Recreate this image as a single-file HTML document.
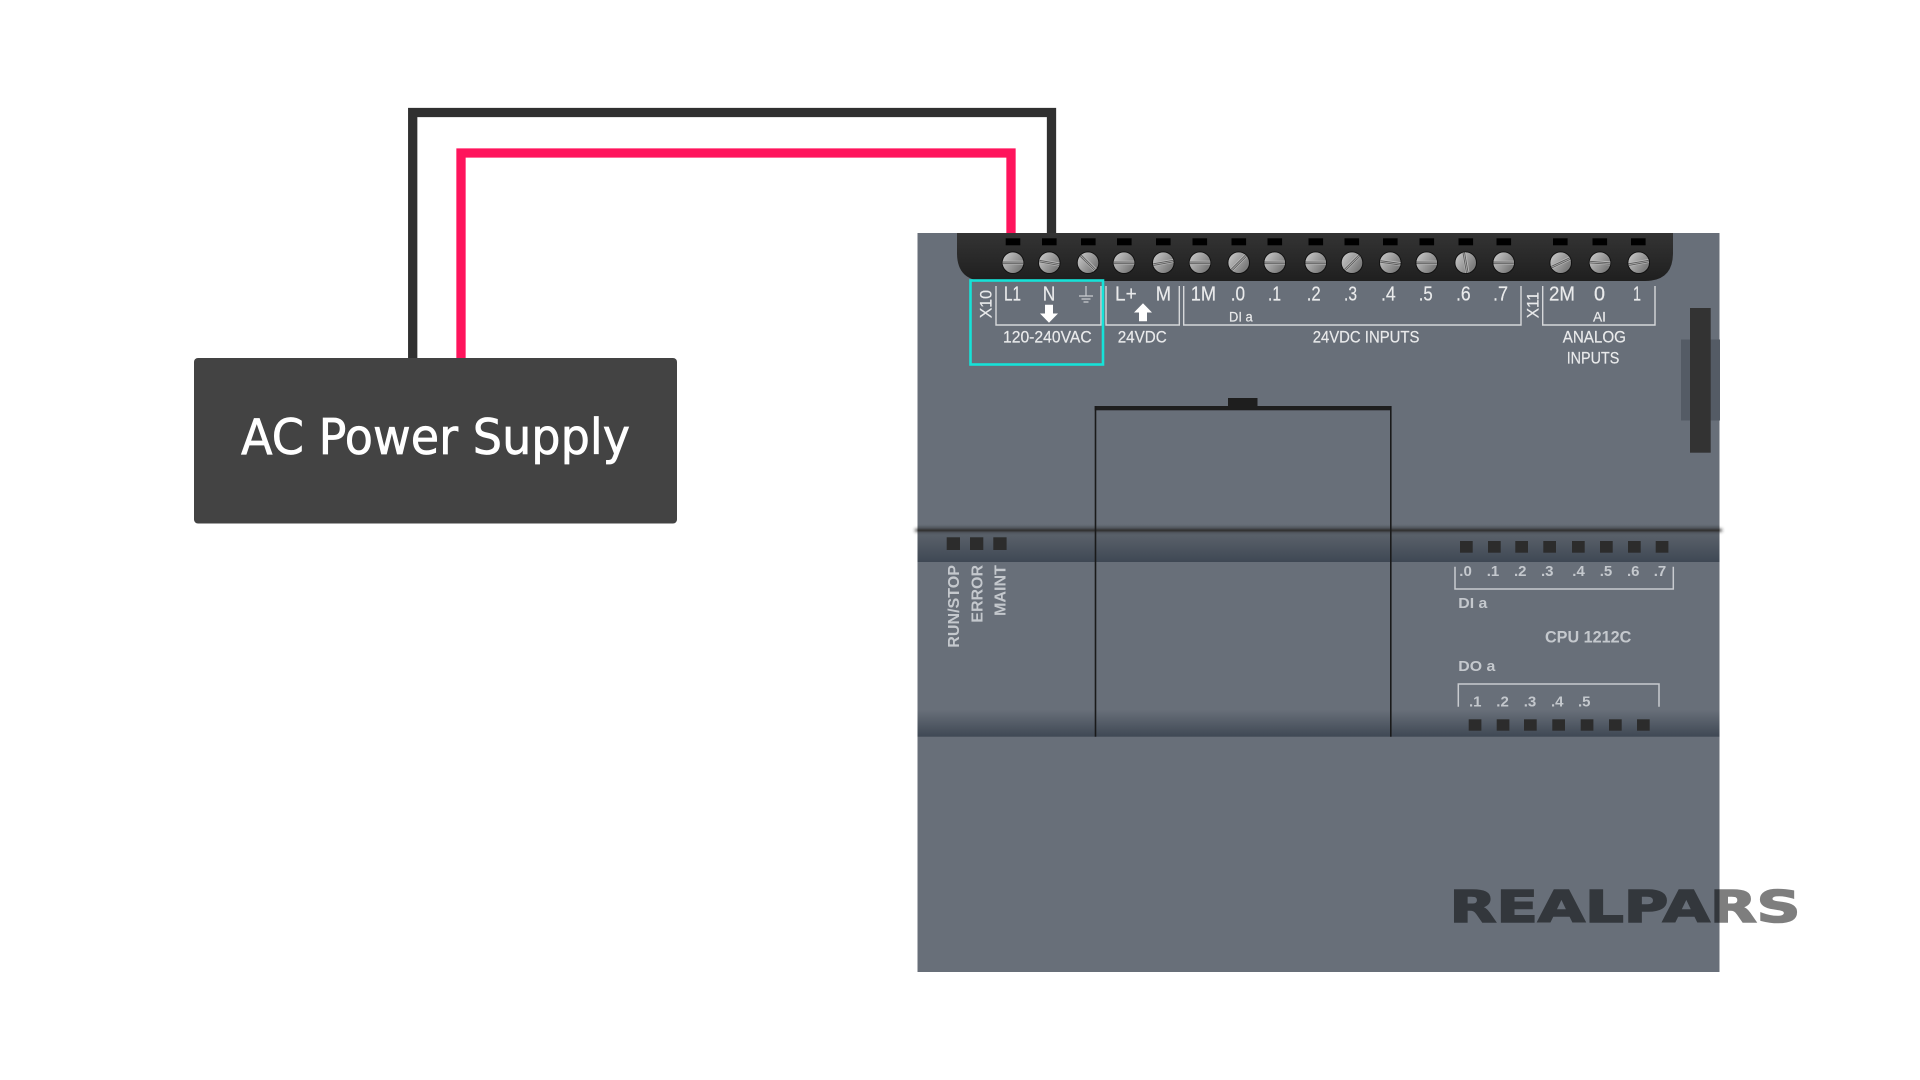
<!DOCTYPE html>
<html><head><meta charset="utf-8"><title>AC Power Supply wiring</title>
<style>html,body{margin:0;padding:0;background:#fff}svg{display:block}</style></head>
<body>
<svg width="1920" height="1080" viewBox="0 0 1920 1080" xmlns="http://www.w3.org/2000/svg">
<defs>
<linearGradient id="blk" x1="0" y1="0" x2="0" y2="1"><stop offset="0" stop-color="#343434"/><stop offset="1" stop-color="#1f1f1f"/></linearGradient>
<linearGradient id="b1" x1="0" y1="0" x2="0" y2="1"><stop offset="0" stop-color="#5c636c"/><stop offset="1" stop-color="#3f4854"/></linearGradient>
<linearGradient id="b2" x1="0" y1="0" x2="0" y2="1"><stop offset="0" stop-color="#686f79"/><stop offset="1" stop-color="#3f4854"/></linearGradient>
<linearGradient id="b0" x1="0" y1="0" x2="0" y2="1"><stop offset="0" stop-color="#686f79"/><stop offset="1" stop-color="#555b63"/></linearGradient>
<linearGradient id="sc" x1="0" y1="0" x2="0.9" y2="0.6"><stop offset="0" stop-color="#cfcfcf"/><stop offset="1" stop-color="#7d7d7d"/></linearGradient>
<filter id="bl" x="-5%" y="-300%" width="110%" height="700%"><feGaussianBlur stdDeviation="1.5"/></filter>
<g id="s"><circle r="10.8" fill="url(#sc)" stroke="#111" stroke-width="1"/></g>
<g id="k"><rect x="-10.2" y="-2" width="20.4" height="4" fill="#b9b9b9"/><rect x="-10.2" y="-1.1" width="20.4" height="0.9" fill="#5b5b5b"/><rect x="-10.2" y="0.5" width="20.4" height="0.9" fill="#5b5b5b"/></g>
</defs>

<rect width="1920" height="1080" fill="#fff"/>

<!-- wires -->
<path d="M412.7 360V112.5H1051.5V240" fill="none" stroke="#303030" stroke-width="9.3"/>
<path d="M461 360V153H1011V240" fill="none" stroke="#ff145c" stroke-width="9.3"/>

<!-- power supply -->
<rect x="194" y="358" width="483" height="165.5" rx="4" fill="#434343"/>
<text x="241" y="454" font-family="'DejaVu Sans',sans-serif" font-size="49" fill="#fff" stroke="#fff" stroke-width="0.7" textLength="389" lengthAdjust="spacingAndGlyphs">AC Power Supply</text>

<!-- PLC body -->
<rect x="917.5" y="233" width="802" height="739" fill="#686f79"/>
<rect x="917.5" y="524" width="802" height="6" fill="url(#b0)"/>
<rect x="917.5" y="532" width="802" height="30" fill="url(#b1)"/>
<rect x="917.5" y="710" width="802" height="26.7" fill="url(#b2)"/>
<rect x="915" y="529" width="807" height="2.5" fill="#2a2a2a" filter="url(#bl)"/>
<rect x="917.5" y="529.5" width="802" height="2" fill="#333"/>

<!-- right clip -->
<rect x="1681" y="339.5" width="39" height="81" fill="#545b65"/>
<rect x="1690" y="308" width="20.7" height="144.7" fill="#333"/>

<!-- door -->
<rect x="1228" y="398" width="29.5" height="9" fill="#1e1e1e"/>
<rect x="1094.7" y="406" width="296.8" height="4.3" fill="#1e1e1e"/>
<rect x="1094.7" y="406" width="1.6" height="330.7" fill="#1a1a1a"/>
<rect x="1390" y="406" width="1.6" height="330.7" fill="#1a1a1a"/>

<!-- terminal block -->
<path d="M957 233H1673V253Q1673 281 1645 281H985Q957 281 957 253Z" fill="url(#blk)"/>
<g fill="#000">
<rect x="1005.7" y="238.3" width="14.6" height="7"/><rect x="1042" y="238.3" width="14.6" height="7"/><rect x="1081" y="238.3" width="14.6" height="7"/><rect x="1117" y="238.3" width="14.6" height="7"/><rect x="1156" y="238.3" width="14.6" height="7"/><rect x="1192.5" y="238.3" width="14.6" height="7"/><rect x="1231.5" y="238.3" width="14.6" height="7"/><rect x="1267.5" y="238.3" width="14.6" height="7"/><rect x="1308.5" y="238.3" width="14.6" height="7"/><rect x="1344.5" y="238.3" width="14.6" height="7"/><rect x="1383" y="238.3" width="14.6" height="7"/><rect x="1419.5" y="238.3" width="14.6" height="7"/><rect x="1458.5" y="238.3" width="14.6" height="7"/><rect x="1496.5" y="238.3" width="14.6" height="7"/><rect x="1553" y="238.3" width="14.6" height="7"/><rect x="1592.5" y="238.3" width="14.6" height="7"/><rect x="1631" y="238.3" width="14.6" height="7"/>
</g>
<!-- screws -->
<g id="screws">
<g transform="translate(1013,262.7)"><use href="#s"/><use href="#k"/></g>
<g transform="translate(1049.3,262.7)"><use href="#s"/><use href="#k" transform="rotate(10)"/></g>
<g transform="translate(1088,262.7)"><use href="#s"/><use href="#k" transform="rotate(45)"/></g>
<g transform="translate(1124,262.7)"><use href="#s"/><use href="#k"/></g>
<g transform="translate(1163.3,262.7)"><use href="#s"/><use href="#k" transform="rotate(-10)"/></g>
<g transform="translate(1200,262.7)"><use href="#s"/><use href="#k"/></g>
<g transform="translate(1238.7,262.7)"><use href="#s"/><use href="#k" transform="rotate(-45)"/></g>
<g transform="translate(1274.7,262.7)"><use href="#s"/><use href="#k"/></g>
<g transform="translate(1315.7,262.7)"><use href="#s"/><use href="#k"/></g>
<g transform="translate(1352,262.7)"><use href="#s"/><use href="#k" transform="rotate(-45)"/></g>
<g transform="translate(1390.3,262.7)"><use href="#s"/><use href="#k" transform="rotate(8)"/></g>
<g transform="translate(1426.7,262.7)"><use href="#s"/><use href="#k"/></g>
<g transform="translate(1465.7,262.7)"><use href="#s"/><use href="#k" transform="rotate(80)"/></g>
<g transform="translate(1503.7,262.7)"><use href="#s"/><use href="#k"/></g>
<g transform="translate(1560.7,262.7)"><use href="#s"/><use href="#k" transform="rotate(-25)"/></g>
<g transform="translate(1600,262.7)"><use href="#s"/><use href="#k" transform="rotate(4)"/></g>
<g transform="translate(1638.7,262.7)"><use href="#s"/><use href="#k" transform="rotate(-10)"/></g>
</g>

<!-- top brackets -->
<g fill="none" stroke="#d6d8da" stroke-width="1.4">
<path d="M996 286V325H1101V286"/>
<path d="M1106 286V325H1179.3V286"/>
<path d="M1183.7 286V325H1521V286"/>
<path d="M1542.7 286V325H1655V286"/>
</g>

<!-- terminal labels -->
<g font-family="'Liberation Sans',sans-serif" fill="#e9eaeb" stroke="#e9eaeb" stroke-width="0.2" font-size="20">
<text x="1004" y="300.3" textLength="17" lengthAdjust="spacingAndGlyphs">L1</text>
<text x="1042.7" y="300.3" textLength="12.6" lengthAdjust="spacingAndGlyphs">N</text>
<text x="1115" y="300.3" textLength="21.7" lengthAdjust="spacingAndGlyphs">L+</text>
<text x="1155.7" y="300.3" textLength="15.3" lengthAdjust="spacingAndGlyphs">M</text>
<text x="1190.7" y="300.3" textLength="25.3" lengthAdjust="spacingAndGlyphs">1M</text>
<text x="1230.7" y="300.3" textLength="14.3" lengthAdjust="spacingAndGlyphs">.0</text>
<text x="1268" y="300.3" textLength="13" lengthAdjust="spacingAndGlyphs">.1</text>
<text x="1306.7" y="300.3" textLength="14" lengthAdjust="spacingAndGlyphs">.2</text>
<text x="1344" y="300.3" textLength="13" lengthAdjust="spacingAndGlyphs">.3</text>
<text x="1381" y="300.3" textLength="14.7" lengthAdjust="spacingAndGlyphs">.4</text>
<text x="1418.7" y="300.3" textLength="14" lengthAdjust="spacingAndGlyphs">.5</text>
<text x="1456" y="300.3" textLength="14.7" lengthAdjust="spacingAndGlyphs">.6</text>
<text x="1493" y="300.3" textLength="15" lengthAdjust="spacingAndGlyphs">.7</text>
<text x="1549" y="300.3" textLength="26" lengthAdjust="spacingAndGlyphs">2M</text>
<text x="1594" y="300.3" textLength="11" lengthAdjust="spacingAndGlyphs">0</text>
<text x="1633" y="300.3" textLength="8" lengthAdjust="spacingAndGlyphs">1</text>
<text x="1229" y="321.7" font-size="14" textLength="23.7" lengthAdjust="spacingAndGlyphs">DI a</text>
<text x="1593" y="321.7" font-size="14" textLength="13" lengthAdjust="spacingAndGlyphs">AI</text>
<text x="1003" y="342.5" font-size="16.5" textLength="88.7" lengthAdjust="spacingAndGlyphs">120-240VAC</text>
<text x="1117.7" y="342.5" font-size="16.5" textLength="49" lengthAdjust="spacingAndGlyphs">24VDC</text>
<text x="1312.7" y="342.5" font-size="16.5" textLength="106.7" lengthAdjust="spacingAndGlyphs">24VDC INPUTS</text>
<text x="1562.7" y="342.5" font-size="16.5" textLength="63.3" lengthAdjust="spacingAndGlyphs">ANALOG</text>
<text x="1566.7" y="363.5" font-size="16.5" textLength="52.6" lengthAdjust="spacingAndGlyphs">INPUTS</text>
<text transform="translate(991.5,318.3) rotate(-90)" font-size="17" textLength="28.3" lengthAdjust="spacingAndGlyphs">X10</text>
<text transform="translate(1538.5,318.3) rotate(-90)" font-size="17" textLength="26.3" lengthAdjust="spacingAndGlyphs">X11</text>
</g>

<!-- ground symbol -->
<g stroke="#c9ccd0" stroke-width="1.2" fill="none">
<path d="M1086 286V296M1079 296H1093M1081.5 299H1090.5M1083.5 302H1088.5"/>
</g>
<!-- arrows -->
<path d="M1045 304.7H1053V313.5H1058L1049 322.7L1040 313.5H1045Z" fill="#fff"/>
<path d="M1139 321.3H1147V312.5H1152L1143 303.3L1134 312.5H1139Z" fill="#fff"/>

<!-- cyan highlight -->
<rect x="970.5" y="280.5" width="132.5" height="84" fill="none" stroke="#16e2d8" stroke-width="2.6"/>

<!-- LEDs -->
<g fill="#2c2c2c">
<rect x="946.7" y="537.3" width="13.3" height="12.7"/><rect x="970" y="537.3" width="13.3" height="12.7"/><rect x="993.3" y="537.3" width="13.3" height="12.7"/>
<rect x="1460" y="541" width="12.7" height="11.7"/><rect x="1488" y="541" width="12.7" height="11.7"/><rect x="1515.3" y="541" width="12.7" height="11.7"/><rect x="1543.3" y="541" width="12.7" height="11.7"/><rect x="1572" y="541" width="12.7" height="11.7"/><rect x="1600" y="541" width="12.7" height="11.7"/><rect x="1628" y="541" width="12.7" height="11.7"/><rect x="1655.7" y="541" width="12.7" height="11.7"/>
<rect x="1468.7" y="719.3" width="12.7" height="11.4"/><rect x="1496.7" y="719.3" width="12.7" height="11.4"/><rect x="1524" y="719.3" width="12.7" height="11.4"/><rect x="1552.3" y="719.3" width="12.7" height="11.4"/><rect x="1580.7" y="719.3" width="12.7" height="11.4"/><rect x="1609" y="719.3" width="12.7" height="11.4"/><rect x="1637" y="719.3" width="12.7" height="11.4"/>
</g>

<!-- status labels -->
<g font-family="'Liberation Sans',sans-serif" font-weight="700" fill="#c4c8cd" font-size="16">
<text transform="translate(959,647.7) rotate(-90)" textLength="82.7" lengthAdjust="spacingAndGlyphs">RUN/STOP</text>
<text transform="translate(982.4,622.7) rotate(-90)" textLength="57.7" lengthAdjust="spacingAndGlyphs">ERROR</text>
<text transform="translate(1005.7,616) rotate(-90)" textLength="51" lengthAdjust="spacingAndGlyphs">MAINT</text>
<g font-size="15">
<text x="1459.3" y="576">.0</text><text x="1486.7" y="576">.1</text><text x="1514" y="576">.2</text><text x="1541" y="576">.3</text><text x="1572.3" y="576">.4</text><text x="1599.7" y="576">.5</text><text x="1627" y="576">.6</text><text x="1653.7" y="576">.7</text>
<text x="1458.3" y="608.2" textLength="29" lengthAdjust="spacingAndGlyphs">DI a</text>
<text x="1458.3" y="670.8" textLength="37" lengthAdjust="spacingAndGlyphs">DO a</text>
<text x="1469" y="706.5">.1</text><text x="1496.3" y="706.5">.2</text><text x="1523.7" y="706.5">.3</text><text x="1551" y="706.5">.4</text><text x="1578" y="706.5">.5</text>
</g>
<text x="1545" y="642.5" font-size="17" textLength="86.3" lengthAdjust="spacingAndGlyphs">CPU 1212C</text>
</g>
<g fill="none" stroke="#c8cbcf" stroke-width="1.5">
<path d="M1455 566.7V589H1673.3V566.7"/>
<path d="M1458.3 706.7V684H1659V706.7"/>
</g>

<!-- logo -->
<text x="1449.5" y="922" font-family="'DejaVu Sans',sans-serif" font-weight="700" font-size="44" fill="#000" stroke="#000" stroke-width="1.6" opacity="0.5" textLength="351" lengthAdjust="spacingAndGlyphs">REALPARS</text>
</svg>
</body></html>
